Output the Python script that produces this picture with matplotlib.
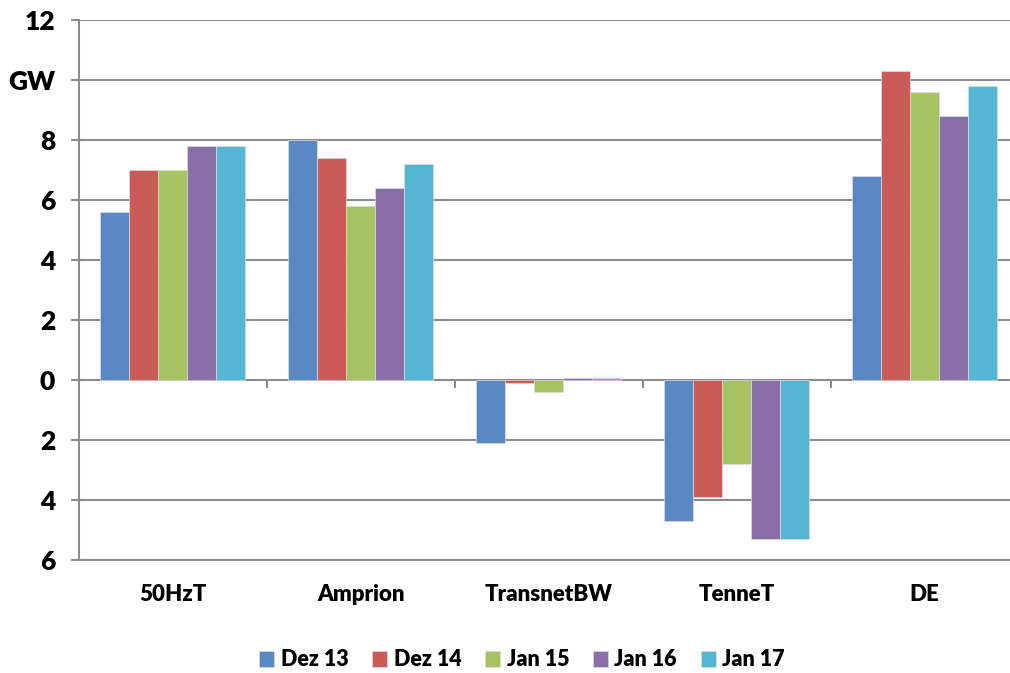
import numpy as np
import matplotlib
matplotlib.use("Agg")
import matplotlib.pyplot as plt

# ─── Data ────────────────────────────────────────────────────────────────────
categories = ["50HzT", "Amprion", "TransnetBW", "TenneT", "DE"]
series_names = ["Dez 13", "Dez 14", "Jan 15", "Jan 16", "Jan 17"]
dez13 = [5.6, 8.0, -2.1, -4.7, 6.8]
dez14 = [7.0, 7.4, -0.1, -3.9, 10.3]
jan15 = [7.0, 5.8, -0.4, -2.8, 9.6]
jan16 = [7.8, 6.4, 0.08, -5.3, 8.8]
jan17 = [7.8, 7.2, 0.08, -5.3, 9.8]
y_ticks = [-6, -4, -2, 0, 2, 4, 6, 8, 10, 12]
y_ticklabels = ["6", "4", "2", "0", "2", "4", "6", "8", "GW", "12"]

colors = ["#5889C4", "#CB5B57", "#A6C462", "#896EA8", "#54B6D2"]
grid_col = "#8c8c8c"

plt.rcParams['font.family'] = ['Lato', 'DejaVu Sans']

fig = plt.figure(figsize=(10.1, 6.73), dpi=100)
# axes spans slightly past the right edge, like the cropped original
ax = fig.add_axes([78.7/1010, 113/673, 940/1010, 540/673])

x = np.arange(len(categories))
n = len(series_names)
group_w = 0.774
bw = group_w / n
for i, (name, vals) in enumerate(zip(series_names, [dez13, dez14, jan15, jan16, jan17])):
    offs = (i - (n - 1) / 2) * bw
    ax.bar(x + offs, vals, width=bw, color=colors[i], label=name,
           edgecolor="#dddddd", linewidth=0.5, zorder=3)

ax.set_xlim(-0.5, len(categories) - 0.5)
ax.set_ylim(-6, 12)
ax.set_yticks(y_ticks)
ax.set_yticklabels(y_ticklabels, fontsize=19, fontweight="heavy")
ax.set_xticks(x)
ax.set_xticklabels(categories, fontsize=16, fontweight="heavy")
ax.tick_params(axis="x", length=0, pad=17)
ax.tick_params(axis="y", length=6, width=1.5, color=grid_col, pad=11)

ax.grid(axis="y", color=grid_col, linewidth=1.5, zorder=1)
for s in ["top", "right"]:
    ax.spines[s].set_visible(False)
for s in ["left", "bottom"]:
    ax.spines[s].set_color(grid_col)
    ax.spines[s].set_linewidth(1.5)

# category separator ticks on the zero line
bounds = np.arange(len(categories) + 1) - 0.5
ax.vlines(bounds[1:], -0.27, 0, color=grid_col, linewidth=1.5, zorder=2)

leg = fig.legend(loc="center", bbox_to_anchor=(522/1010, 1 - 660/673), ncol=5,
                 frameon=False, handlelength=0.7, handleheight=0.7,
                 handletextpad=0.3, columnspacing=1.1,
                 prop={"size": 15.5, "weight": "heavy"})

fig.savefig("out.png", dpi=100)
